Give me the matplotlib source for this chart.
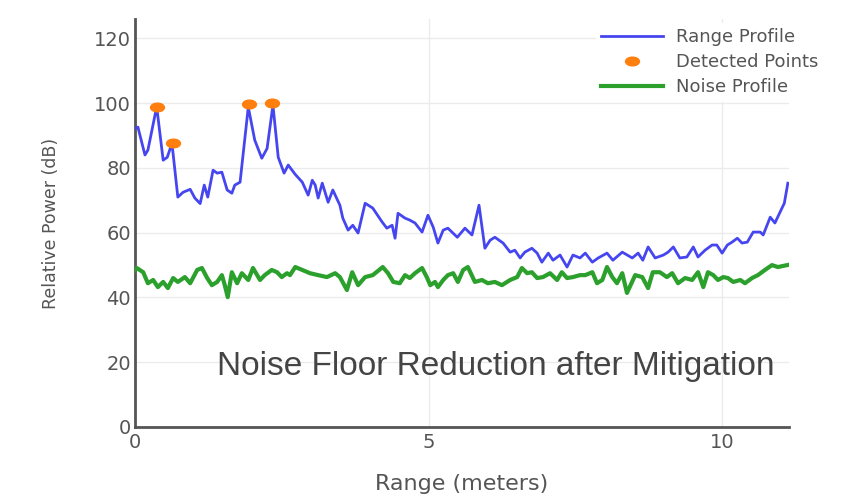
import numpy as np
import matplotlib.pyplot as plt
from matplotlib.path import Path

# Range profile (blue)
rangeX = [0.00, 0.05, 0.17, 0.22, 0.37, 0.48, 0.55, 0.63, 0.73, 0.82, 0.94, 1.02, 1.11, 1.18,
          1.24, 1.33, 1.40, 1.48, 1.57, 1.65, 1.70, 1.79, 1.93, 2.04, 2.16, 2.25, 2.35, 2.44,
          2.54, 2.61, 2.73, 2.85, 2.95, 3.02, 3.07, 3.12, 3.19, 3.29, 3.37, 3.49, 3.54, 3.63,
          3.71, 3.80, 3.92, 4.05, 4.21, 4.29, 4.38, 4.43, 4.48, 4.60, 4.68, 4.77, 4.89, 4.99,
          5.08, 5.16, 5.25, 5.33, 5.49, 5.62, 5.74, 5.86, 5.96, 6.05, 6.13, 6.27, 6.39, 6.47,
          6.56, 6.64, 6.76, 6.85, 6.93, 7.04, 7.12, 7.24, 7.36, 7.46, 7.58, 7.67, 7.79, 7.89,
          8.04, 8.14, 8.30, 8.47, 8.57, 8.65, 8.74, 8.86, 9.00, 9.08, 9.17, 9.28, 9.40, 9.51,
          9.59, 9.71, 9.83, 9.91, 10.00, 10.09, 10.17, 10.26, 10.34, 10.43, 10.53, 10.65,
          10.70, 10.82, 10.90, 11.02, 11.06, 11.12]
rangeDb = [92.3, 92.6, 84.0, 85.5, 98.9, 82.4, 83.3, 87.6, 71.0, 72.5, 73.4, 70.7, 69.0, 74.7,
           71.0, 79.3, 78.4, 78.7, 73.2, 72.2, 74.7, 75.6, 98.8, 88.6, 83.0, 86.0, 99.4, 83.3,
           78.4, 80.9, 78.0, 75.6, 71.6, 76.2, 74.7, 70.7, 75.3, 69.4, 73.2, 68.5, 64.5, 60.8,
           62.3, 59.9, 69.1, 67.6, 63.3, 61.4, 62.3, 58.3, 66.0, 64.5, 63.9, 63.0, 60.2, 65.4,
           61.7, 56.8, 60.8, 61.4, 58.6, 61.4, 59.3, 68.5, 55.2, 57.7, 58.6, 56.8, 54.0, 54.6,
           52.2, 54.0, 55.2, 53.7, 50.9, 53.7, 51.5, 53.1, 49.4, 53.1, 52.2, 53.7, 50.9, 52.2,
           53.7, 51.5, 54.0, 52.2, 53.7, 51.5, 55.6, 52.2, 53.1, 54.0, 55.6, 52.2, 52.5, 55.6,
           52.5, 54.6, 56.2, 56.2, 53.7, 56.2, 57.1, 58.3, 56.8, 57.1, 60.2, 60.2,
           59.3, 64.8, 63.0, 67.6, 69.1, 75.3]

# Detected points (orange)
detectedX = [0.37, 0.65, 1.94, 2.33]
detectedDb = [98.8, 87.7, 99.7, 100.0]

# Noise profile (green)
noiseX = [0.00, 0.03, 0.14, 0.22, 0.31, 0.39, 0.48, 0.56, 0.65, 0.73, 0.85, 0.94, 1.06, 1.14,
          1.23, 1.31, 1.40, 1.48, 1.53, 1.58, 1.65, 1.74, 1.82, 1.93, 2.01, 2.13, 2.21, 2.33,
          2.42, 2.50, 2.59, 2.64, 2.73, 2.85, 2.98, 3.12, 3.27, 3.41, 3.49, 3.61, 3.70, 3.80,
          3.92, 4.05, 4.22, 4.31, 4.40, 4.51, 4.60, 4.68, 4.77, 4.89, 4.97, 5.03, 5.11, 5.16,
          5.25, 5.33, 5.42, 5.50, 5.59, 5.67, 5.79, 5.91, 6.01, 6.13, 6.25, 6.39, 6.51, 6.59,
          6.68, 6.76, 6.85, 6.95, 7.07, 7.19, 7.27, 7.36, 7.46, 7.58, 7.67, 7.79, 7.87, 7.96,
          8.04, 8.13, 8.21, 8.30, 8.38, 8.52, 8.64, 8.74, 8.82, 8.94, 9.06, 9.15, 9.25, 9.37,
          9.49, 9.59, 9.68, 9.76, 9.85, 9.93, 10.02, 10.10, 10.19, 10.31, 10.39, 10.51, 10.61,
          10.73, 10.85, 10.95, 11.11]
noiseDb = [48.5, 49.1, 47.8, 44.4, 45.4, 43.2, 44.8, 42.9, 46.0, 44.8, 46.3, 44.4, 48.5, 49.1,
           46.0, 43.8, 44.8, 46.9, 43.8, 40.1, 47.8, 44.4, 47.5, 45.4, 49.1, 45.4, 46.9, 48.5,
           47.8, 46.3, 47.5, 46.9, 49.4, 48.5, 47.5, 46.9, 46.3, 47.5, 46.3, 42.3, 47.8, 43.8,
           46.3, 46.9, 49.4, 47.5, 44.8, 44.4, 46.9, 46.0, 47.5, 49.1, 46.3, 43.8, 44.8, 43.2,
           45.4, 46.9, 47.5, 44.8, 48.5, 49.4, 44.8, 45.4, 44.4, 44.8, 43.8, 45.4, 46.3, 49.1,
           47.5, 47.8, 46.0, 46.3, 47.5, 45.4, 47.8, 46.0, 46.3, 46.9, 46.9, 47.8, 44.4, 45.4,
           49.4, 46.3, 44.4, 47.5, 41.4, 46.9, 46.3, 42.9, 47.8, 47.8, 46.3, 47.5, 44.4, 46.0,
           45.4, 47.8, 43.2, 47.8, 46.9, 45.4, 46.3, 46.0, 44.8, 45.4, 44.4, 46.0, 46.9,
           48.5, 50.0, 49.4, 50.0]

xTicks = [0, 5, 10]
yTicks = [0, 20, 40, 60, 80, 100, 120]
noteText = "Noise Floor Reduction after Mitigation"

textGrey = "#555555"

fig = plt.figure(figsize=(8.68, 5.0), dpi=100)
ax = fig.add_axes([0.1555, 0.146, 0.7535, 0.816])

# flat orange ellipse marker
circle = Path.unit_circle()
ellipse = Path(circle.vertices * np.array([1.6, 1.0]), circle.codes)

ax.plot(rangeX, rangeDb, color="#4646F0", lw=2.0, label="Range Profile", zorder=3)
ax.plot(detectedX, detectedDb, linestyle="none", marker=ellipse, markersize=10,
        color="#FF7F0E", label="Detected Points", zorder=4)
ax.plot(noiseX, noiseDb, color="#2CA02C", lw=3.0, label="Noise Profile", zorder=3)

ax.set_xlim(0, 11.14)
ax.set_ylim(0, 126)
ax.set_xticks(xTicks)
ax.set_yticks(yTicks)
ax.tick_params(axis="x", length=0, labelsize=14, labelcolor=textGrey, pad=4)
ax.tick_params(axis="y", length=0, labelsize=14, labelcolor=textGrey, pad=3)
ax.grid(True, color="#EBEBEB", lw=1)
ax.set_axisbelow(True)

for side in ["top", "right"]:
    ax.spines[side].set_visible(False)
for side in ["left", "bottom"]:
    ax.spines[side].set_color("#555555")
    ax.spines[side].set_linewidth(2)

ax.set_xlabel("Range (meters)", fontsize=16, color=textGrey, labelpad=16)
ax.set_ylabel("Relative Power (dB)", fontsize=12.5, color=textGrey, labelpad=24)

ax.text(1.40, 16.0, noteText, fontsize=24, family="Liberation Sans", color="#444444",
        ha="left", va="baseline", zorder=5)

leg = ax.legend(loc="upper left", bbox_to_anchor=(596 / 868, 1 - 23 / 500),
                bbox_transform=fig.transFigure, fontsize=13, frameon=True,
                facecolor="white", edgecolor="none", framealpha=1,
                handlelength=3.4, handletextpad=0.75, labelspacing=0.38,
                borderpad=0.3, borderaxespad=0)
for t in leg.get_texts():
    t.set_color(textGrey)
leg.set_zorder(6)

fig.savefig("out.png", dpi=100, facecolor="white")
